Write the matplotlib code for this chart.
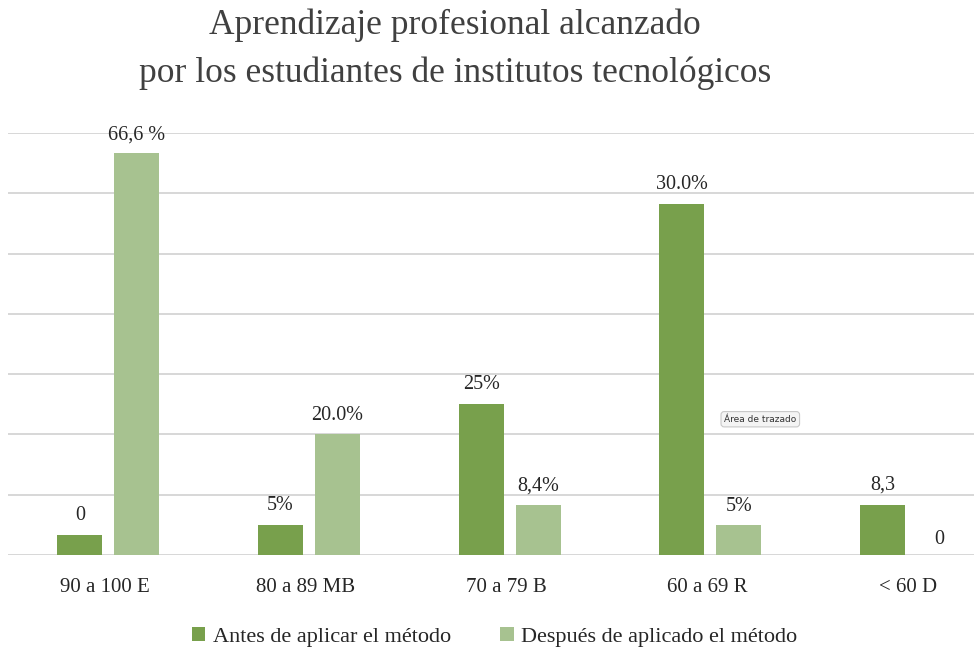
import numpy as np
import matplotlib.pyplot as plt

# ---------------------------------------------------------------- data
categorias = ['90 a 100 E', '80 a 89 MB', '70 a 79 B', '60 a 69 R', '< 60 D']
antes = [3.3, 5, 25, 58.3, 8.3]
despues = [66.6, 20, 8.3, 5, 0]
etiq_antes = ['0', '5%', '25%', '30.0%', '8,3']
etiq_despues = ['66,6 %', '20.0%', '8,4%', '5%', '0']
serie_nombres = ['Antes de aplicar el método', 'Después de aplicado el método']

# ---------------------------------------------------------------- style
plt.rcParams['font.family'] = ['Liberation Serif', 'DejaVu Serif']
col_antes = '#78a04c'
col_despues = '#a7c290'
txt = '#262626'

fig = plt.figure(figsize=(9.74, 6.51), dpi=100)
ax = fig.add_axes([0.0082, 0.1475, 0.9918, 0.6482])

x = np.arange(len(categorias))
w = 0.225
b1 = ax.bar(x - 0.142, antes, w, color=col_antes, label=serie_nombres[0], zorder=3)
b2 = ax.bar(x + 0.142, despues, w, color=col_despues, label=serie_nombres[1], zorder=3)

for rect, s in zip(b1, etiq_antes):
    ax.annotate(s, (rect.get_x() + rect.get_width() / 2, rect.get_height()),
                xytext=(0, 14), textcoords='offset points', ha='center', va='center',
                fontsize=14.5, color=txt)
for rect, s in zip(b2, etiq_despues):
    ax.annotate(s, (rect.get_x() + rect.get_width() / 2, rect.get_height()),
                xytext=(0, 13.5 if rect.get_height() > 0 else 11), textcoords='offset points',
                ha='center', va='center', fontsize=14.5, color=txt)

ax.set_xlim(-0.5, 4.314)
ax.set_ylim(0, 70)
ax.set_yticks(np.arange(0, 71, 10))
ax.yaxis.grid(True, color='#d4d4d4', linewidth=1.3, zorder=0)
ax.tick_params(axis='y', left=False, labelleft=False)
ax.tick_params(axis='x', bottom=False, pad=13)
ax.set_xticks(x - 0.015)
ax.set_xticklabels(categorias, fontsize=15, color=txt)
for s in ax.spines.values():
    s.set_visible(False)

fig.text(0.467, 0.961, 'Aprendizaje profesional alcanzado', ha='center', va='center',
         fontsize=25.5, color='#404040')
fig.text(0.467, 0.887, 'por los estudiantes de institutos tecnológicos', ha='center', va='center',
         fontsize=25.5, color='#404040')

# tooltip seen in the screenshot
fig.text(0.7435, 0.356, 'Área de trazado', ha='left', va='center', fontsize=6.5,
         family='DejaVu Sans', color='#333333',
         bbox=dict(boxstyle='round,pad=0.35', facecolor='#f4f4f4', edgecolor='#c8c8c8', linewidth=0.8))

fig.legend(loc='center', bbox_to_anchor=(0.508, 0.022), ncol=2, frameon=False, fontsize=16,
           handlelength=0.6, handleheight=0.6, handletextpad=0.35, columnspacing=2.2,
           labelcolor=txt)

fig.savefig('out.png', dpi=100)
